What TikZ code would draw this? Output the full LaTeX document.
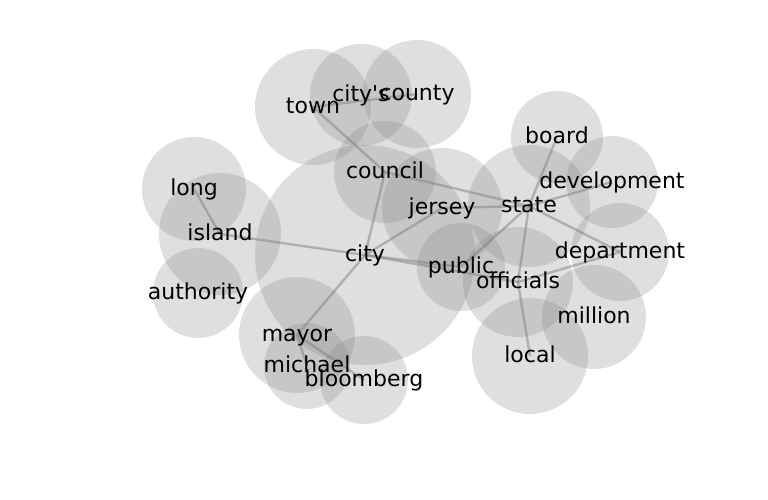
\documentclass[tikz,border=0pt]{standalone}
\usepackage{fontspec}
\setmainfont{DejaVu Sans}
\usepackage{xcolor}
\usepackage{tikz}
\usetikzlibrary{calc}
\definecolor{bubblegray}{RGB}{128,128,128}
\definecolor{linkgray}{RGB}{128,128,128}
\pgfdeclarelayer{bubbles}
\pgfdeclarelayer{links}
\pgfsetlayers{bubbles,links,main}
\tikzstyle{word} = [inner sep=0pt, text height=1em, text depth=0pt, font=\fontsize{16.5}{18}\selectfont, text=black]
\tikzstyle{bubble} = [fill=bubblegray, fill opacity=0.25]
\tikzstyle{link} = [draw=linkgray, line width=1.8pt, opacity=0.5]

\begin{document}
\begin{tikzpicture}[x=0.75pt, y=-0.75pt]
	\useasboundingbox (0,0) rectangle (768,500);
	
	% words
	\node (city) [word] at (365,255) {city};
	\node (town) [word] at (313,107) {town};
	\node (citys) [word] at (361,95) {city\textquotesingle s};
	\node (county) [word] at (417,94) {county};
	\node (council) [word] at (385,172) {council};
	\node (jersey) [word] at (442,208) {jersey};
	\node (state) [word] at (529,206) {state};
	\node (board) [word] at (557,137) {board};
	\node (development) [word] at (612,182) {development};
	\node (department) [word] at (620,252) {department};
	\node (public) [word] at (461,267) {public};
	\node (officials) [word] at (518,282) {officials};
	\node (million) [word] at (594,317) {million};
	\node (local) [word] at (530,356) {local};
	\node (long) [word] at (194,189) {long};
	\node (island) [word] at (220,234) {island};
	\node (authority) [word] at (198,293) {authority};
	\node (mayor) [word] at (297,335) {mayor};
	\node (michael) [word] at (307,366) {michael};
	\node (bloomberg) [word] at (364,380) {bloomberg};
	
	% bubbles
	\begin{pgfonlayer}{bubbles}
		\foreach \w/\r in {city/110, town/58, citys/51, county/54, council/51, jersey/60,
			state/61, board/46, development/46, department/49, public/44, officials/55,
			million/52, local/58, long/52, island/61, authority/45, mayor/58,
			michael/43, bloomberg/44}
			\fill [bubble] (\w.center) circle [radius=\r*0.75pt];
	\end{pgfonlayer}
	
	% links
	\begin{pgfonlayer}{links}
		\draw [link] (town.center) -- (county.center);
		\draw [link] (town.center) -- (council.center);
		\draw [link] (council.center) -- (city.center);
		\draw [link] (council.center) -- (state.center);
		\draw [link] (jersey.center) -- (state.center);
		\draw [link] (city.center) -- (jersey.center);
		\draw [link] (city.center) -- (public.center);
		\draw [link] (city.center) -- (officials.center);
		\draw [link] (island.center) -- (city.center);
		\draw [link] (long.center) -- (island.center);
		\draw [link] (city.center) -- (mayor.center);
		\draw [link] (mayor.center) -- (michael.center);
		\draw [link] (mayor.center) -- (bloomberg.center);
		\draw [link] (state.center) -- (board.center);
		\draw [link] (state.center) -- (development.center);
		\draw [link] (state.center) -- (department.center);
		\draw [link] (state.center) -- (public.center);
		\draw [link] (state.center) -- (officials.center);
		\draw [link] (officials.center) -- (local.center);
		\draw [link] (officials.center) -- (department.center);
	\end{pgfonlayer}
\end{tikzpicture}
\end{document}
